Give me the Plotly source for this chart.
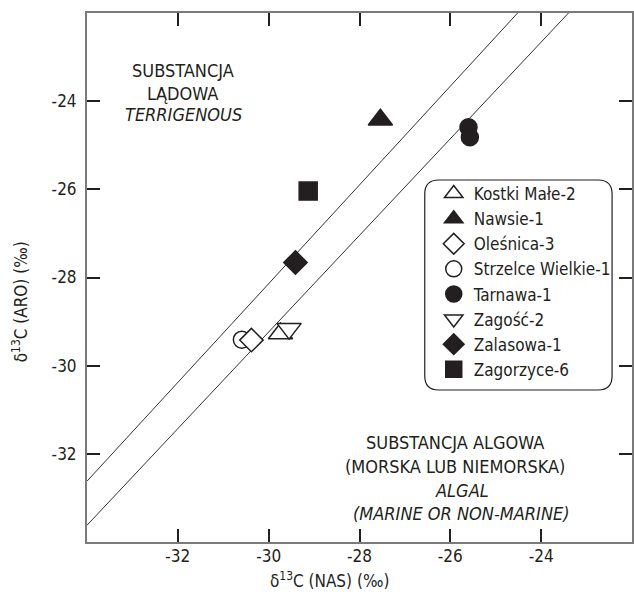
import plotly.graph_objects as go

# Sample data: delta13C of saturated (NAS) vs aromatic (ARO) fractions
wells = ["Kostki Małe-2", "Nawsie-1", "Oleśnica-3", "Strzelce Wielkie-1",
         "Tarnawa-1", "Zagość-2", "Zalasowa-1", "Zagorzyce-6"]
d13c_nas = {
    "Kostki Małe-2": [-29.74],
    "Nawsie-1": [-27.54],
    "Oleśnica-3": [-30.38],
    "Strzelce Wielkie-1": [-30.59],
    "Tarnawa-1": [-25.60, -25.57],
    "Zagość-2": [-29.55],
    "Zalasowa-1": [-29.41],
    "Zagorzyce-6": [-29.13],
}
d13c_aro = {
    "Kostki Małe-2": [-29.27],
    "Nawsie-1": [-24.42],
    "Oleśnica-3": [-29.42],
    "Strzelce Wielkie-1": [-29.41],
    "Tarnawa-1": [-24.59, -24.82],
    "Zagość-2": [-29.16],
    "Zalasowa-1": [-27.66],
    "Zagorzyce-6": [-26.04],
}

# Boundary lines separating terrigenous and algal organic matter
line_slopes = [1.12, 1.096]
line_intercepts = [5.46, 3.644]
line_x = [-34, -22]

x_ticks = [-32, -30, -28, -26, -24]
y_ticks = [-32, -30, -28, -26, -24]

INK = "#231f20"
FONT = "Liberation Sans Narrow, Arial Narrow, DejaVu Sans Condensed, sans-serif"

symbols = {
    "Kostki Małe-2": ("triangle-up", "white", 21),
    "Nawsie-1": ("triangle-up", INK, 21),
    "Oleśnica-3": ("diamond", "white", 18),
    "Strzelce Wielkie-1": ("circle", "white", 17),
    "Tarnawa-1": ("circle", INK, 17),
    "Zagość-2": ("triangle-down", "white", 21),
    "Zalasowa-1": ("diamond", INK, 18),
    "Zagorzyce-6": ("square", INK, 18),
}

fig = go.Figure()

for m, b in zip(line_slopes, line_intercepts):
    fig.add_trace(go.Scatter(
        x=line_x, y=[m * x + b for x in line_x], mode="lines",
        line=dict(color="#333333", width=1), showlegend=False, hoverinfo="skip"))

# drawing order: circle below the open diamond
draw_order = ["Strzelce Wielkie-1", "Oleśnica-3", "Kostki Małe-2", "Zagość-2",
              "Nawsie-1", "Tarnawa-1", "Zalasowa-1", "Zagorzyce-6"]
for name in draw_order:
    sym, fill, size = symbols[name]
    fig.add_trace(go.Scatter(
        x=d13c_nas[name], y=d13c_aro[name], mode="markers", name=name,
        legendrank=wells.index(name) + 1,
        marker=dict(symbol=sym, size=size, color=fill,
                    line=dict(color=INK, width=1.5))))

L, T, B = 87, 13, 53
W, H = 634, 595
PW, PH = W - L, H - T - B


def px(x):
    return (x - L) / PW


def py(y):
    return (H - B - y) / PH


# rounded legend frame
x0, x1, y0, y1 = px(426), px(614), py(390), py(180)
rx, ry = 14 / PW, 14 / PH
frame = (f"M {x0 + rx},{y1} L {x1 - rx},{y1} Q {x1},{y1} {x1},{y1 - ry} "
         f"L {x1},{y0 + ry} Q {x1},{y0} {x1 - rx},{y0} "
         f"L {x0 + rx},{y0} Q {x0},{y0} {x0},{y0 + ry} "
         f"L {x0},{y1 - ry} Q {x0},{y1} {x0 + rx},{y1} Z")
fig.add_shape(type="path", path=frame, xref="paper", yref="paper",
              line=dict(color=INK, width=1.2), fillcolor="white", layer="below")

labels = [
    ("SUBSTANCJA", 183, 70), ("LĄDOWA", 183, 93), ("<i>TERRIGENOUS</i>", 184, 115),
    ("SUBSTANCJA ALGOWA", 456, 442), ("(MORSKA LUB NIEMORSKA)", 456, 466),
    ("<i>ALGAL</i>", 463, 490), ("<i>(MARINE OR NON-MARINE)</i>", 463, 513),
]
for text, x, y in labels:
    fig.add_annotation(text=text, x=px(x), y=py(y), xref="paper", yref="paper",
                       showarrow=False, xanchor="center", yanchor="middle",
                       font=dict(family=FONT, size=18, color=INK))

fig.add_annotation(text="δ<sup>13</sup>C (NAS) (‰)", x=px(330), y=py(580),
                   xref="paper", yref="paper", showarrow=False,
                   xanchor="center", yanchor="middle",
                   font=dict(family=FONT, size=17, color=INK))
fig.add_annotation(text="δ<sup>13</sup>C (ARO) (‰)", x=px(20), y=py(302),
                   xref="paper", yref="paper", showarrow=False, textangle=-90,
                   xanchor="center", yanchor="middle",
                   font=dict(family=FONT, size=17, color=INK))

axis_common = dict(showgrid=False, zeroline=False, showline=True,
                   linecolor="#7a7a7a", linewidth=2, mirror="ticks",
                   ticks="inside", ticklen=13, tickwidth=1.5, tickcolor=INK,
                   tickfont=dict(family=FONT, size=17, color=INK))

fig.update_xaxes(range=[-34, -22], tickvals=x_ticks,
                 ticktext=[str(v) for v in x_ticks], ticklabelstandoff=-2,
                 **axis_common)
fig.update_yaxes(range=[-34, -22], tickvals=y_ticks,
                 ticktext=[str(v) for v in y_ticks], ticklabelstandoff=5,
                 **axis_common)

fig.update_layout(
    width=W, height=H,
    margin=dict(l=L, r=0, t=T, b=B),
    plot_bgcolor="white", paper_bgcolor="white",
    legend=dict(x=px(435), y=py(176), xanchor="left", yanchor="top",
                bgcolor="rgba(0,0,0,0)", borderwidth=0,
                font=dict(family=FONT, size=17, color=INK)),
)

fig.write_html("out.html")
